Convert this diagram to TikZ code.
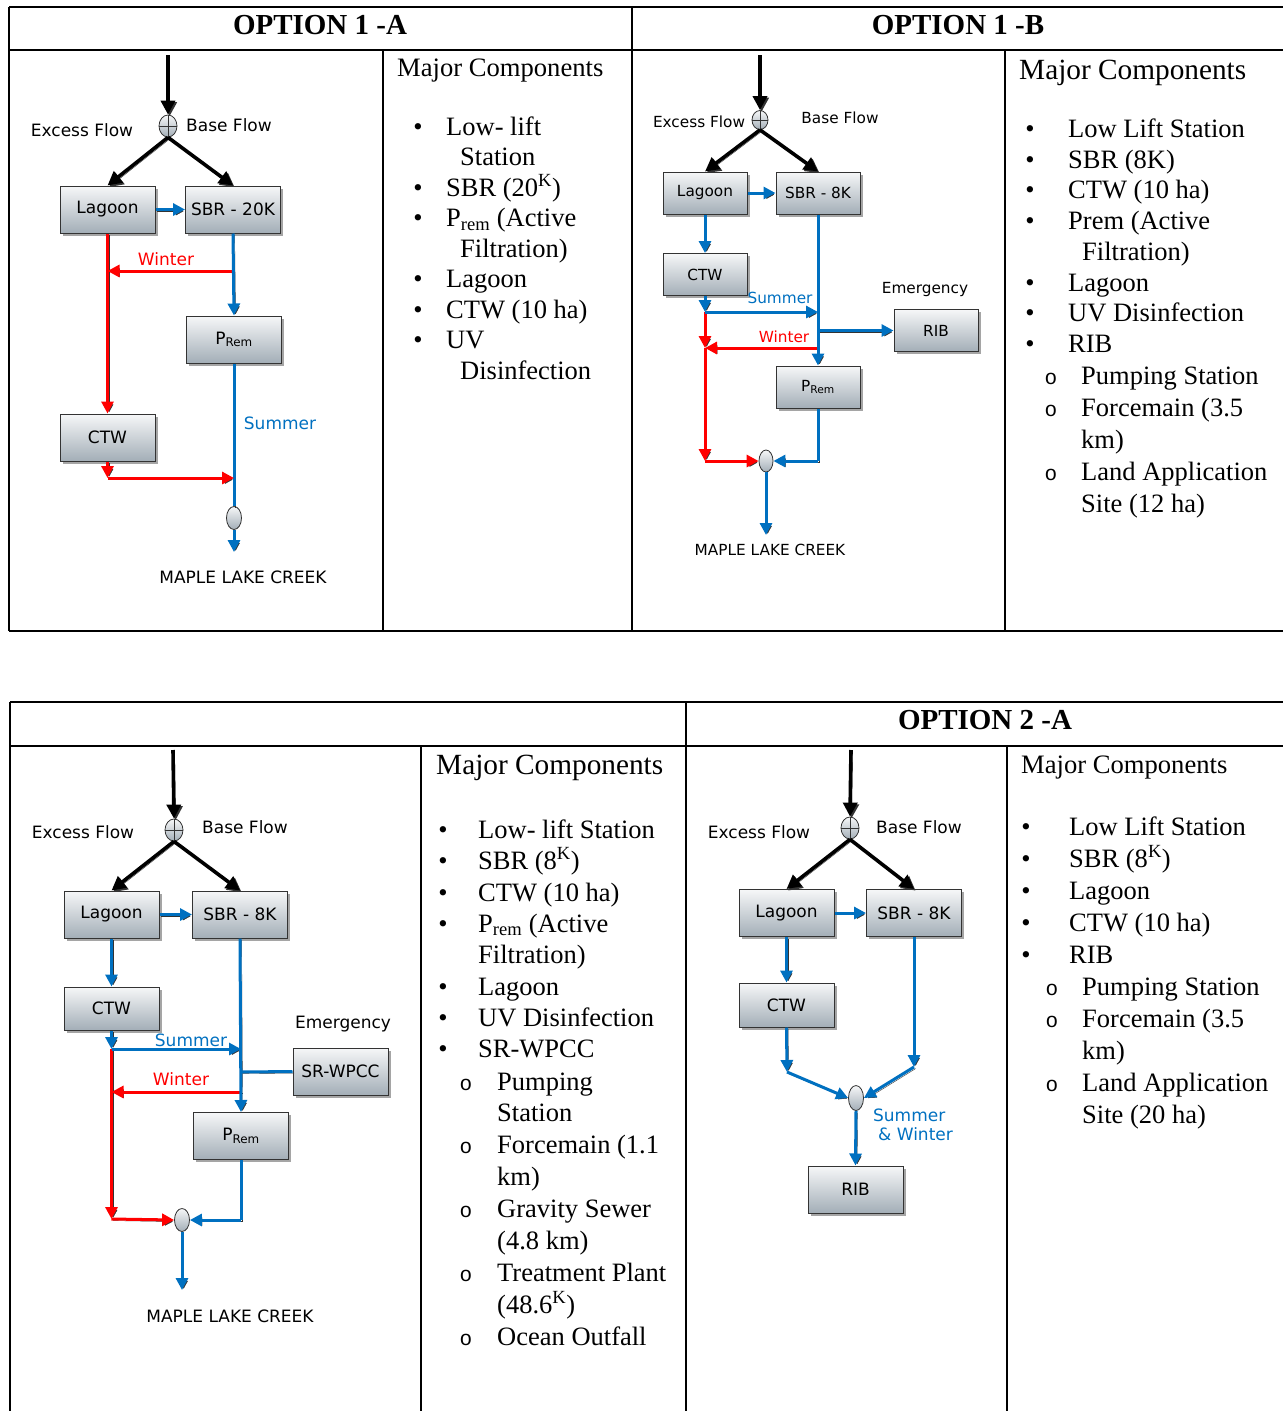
\documentclass[tikz,border=0pt]{standalone}
\usepackage{fontspec}
\setmainfont{Liberation Serif}
\setmonofont{Liberation Mono}
\newfontfamily\diagfont{DejaVu Sans}
\usetikzlibrary{arrows.meta,shapes.geometric,shadows,positioning}
\definecolor{flowblue}{RGB}{0,112,192}
\definecolor{flowred}{RGB}{255,0,0}
\definecolor{boxtop}{RGB}{246,247,248}
\definecolor{boxbottom}{RGB}{163,174,183}

\begin{document}
\begin{tikzpicture}[x=1pt,y=-1pt]
    % Define styles
    \tikzset{
        unit/.style={rectangle, draw=black!80, line width=1pt, top color=boxtop, bottom color=boxbottom, minimum width=95, minimum height=47, inner sep=0pt, drop shadow={shadow xshift=2.5pt, shadow yshift=-2.5pt, fill=black!70}, font=\diagfont\fontsize{17}{20}\selectfont},
        smallunit/.style={unit, minimum width=84, minimum height=42, font=\diagfont\fontsize{15.3}{18}\selectfont},
        junction/.style={ellipse, draw=black!80, line width=0.8pt, top color=boxtop, bottom color=boxbottom, minimum width=18, minimum height=22, inner sep=0pt, path picture={\draw[black!80, line width=0.8pt] (path picture bounding box.north) -- (path picture bounding box.south) (path picture bounding box.west) -- (path picture bounding box.east);}},
        merge/.style={ellipse, draw=black!80, line width=0.8pt, top color=boxtop, bottom color=boxbottom, minimum width=15, minimum height=23, inner sep=0pt},
        flow/.style={line width=3pt, -{Triangle[length=12pt,width=12pt]}, preaction={draw=black!80, transform canvas={xshift=1.6pt,yshift=-1.6pt}}},
        blueflow/.style={flow, draw=flowblue},
        redflow/.style={flow, draw=flowred},
        inflow/.style={flow, draw=black, line width=3.6pt, -{Triangle[length=14pt,width=14pt]}},
        lbl/.style={inner sep=0pt, font=\diagfont\fontsize{17}{20}\selectfont},
        smalllbl/.style={inner sep=0pt, font=\diagfont\fontsize{15.3}{18}\selectfont},
        head/.style={inner sep=0pt, font=\bfseries\fontsize{29}{32}\selectfont},
        comphead/.style={anchor=base west, inner sep=0pt, font=\fontsize{26.6}{30}\selectfont},
        bigcomphead/.style={comphead, font=\fontsize{29.3}{33}\selectfont},
        comp/.style={anchor=base west, inner sep=0pt, font=\fontsize{26.5}{30}\selectfont},
        bul/.style={anchor=base, inner sep=0pt, font=\fontsize{26.5}{30}\selectfont},
        subbul/.style={anchor=base, inner sep=0pt, font=\ttfamily\fontsize{21}{24}\selectfont},
        tableline/.style={line width=2pt}
    }
    \useasboundingbox (0,0) rectangle (1283,1411);

    % Tables
    \draw[tableline] (9,7) -- (1283,7);
    \draw[tableline] (9,50) -- (1283,50);
    \draw[tableline] (9,631) -- (1283,631);
    \draw[tableline] (9,7) -- (9,631);
    \draw[tableline] (632,7) -- (632,631);
    \draw[tableline] (383,50) -- (383,631);
    \draw[tableline] (1005,50) -- (1005,631);
    \draw[tableline] (10,702) -- (1283,702);
    \draw[tableline] (10,746) -- (1283,746);
    \draw[tableline] (10,702) -- (10,1411);
    \draw[tableline] (686,702) -- (686,1411);
    \draw[tableline] (421,746) -- (421,1411);
    \draw[tableline] (1007,746) -- (1007,1411);

    \node[head] (h1a) at (320,25) {OPTION 1 -A};
    \node[head] (h1b) at (958,25) {OPTION 1 -B};
    \node[head] (h2a) at (985,720) {OPTION 2 -A};

    % Option 1-A diagram
    \coordinate (a-in) at (168,55);
    \node[junction] (a-jn) at (168,126) {};
    \node[lbl] (a-exc) at (82,130) {Excess Flow};
    \node[lbl] (a-base) at (229,125) {Base Flow};
    \node[unit] (a-lag) at (107.5,209.5) {Lagoon};
    \node[unit] (a-sbr) at (233,209.5) {SBR - 20K};
    \node[unit] (a-prem) at (234,339.5) {P\textsubscript{Rem}};
    \node[unit] (a-ctw) at (107.5,437.5) {CTW};
    \node[merge] (a-mrg) at (234,518) {};
    \node[lbl] (a-out) at (243,577) {MAPLE LAKE CREEK};
    \node[lbl, text=flowred] (a-win) at (166,259) {Winter};
    \node[lbl, text=flowblue] (a-sum) at (280,423) {Summer};
    \coordinate (a-wtap) at (233.5,271);
    \coordinate (a-wjoin) at (107.5,271);
    \coordinate (a-c1) at (107.5,478);
    \coordinate (a-c2) at (234,478);
    \coordinate (a-end) at (234,552);

    \draw[inflow] (a-in) -- (a-jn.north);
    \draw[inflow] (a-jn.south) -- (a-lag.north);
    \draw[inflow] (a-jn.south) -- (a-sbr.north);
    \draw[blueflow] (a-lag.east) -- (a-sbr.west);
    \draw[redflow] (a-lag.south) -- (a-ctw.north);
    \draw[redflow] (a-wtap) -- (a-wjoin);
    \draw[blueflow] (a-sbr.south) -- (a-prem.north);
    \draw[blueflow, -] (a-prem.south) -- (a-mrg.north);
    \draw[redflow] (a-ctw.south) -- (a-c1);
    \draw[redflow] (a-c1) -- (a-c2);
    \draw[blueflow] (a-mrg.south) -- (a-end);

    % Option 1-A components
    \node[comphead] (a-mc) at (397,76) {Major Components};
    \foreach \x/\y/\txt [count=\i] in {446/135/{Low- lift}, 460/165.5/{Station}, 446/196/{SBR (20\textsuperscript{K})}, 446/226.5/{P\textsubscript{rem} (Active}, 460/257/{Filtration)}, 446/287.5/{Lagoon}, 446/318/{CTW (10 ha)}, 446/348.5/{UV}, 460/379/{Disinfection}}
        \node[comp] (a-t\i) at (\x,\y) {\txt};
    \foreach \y [count=\i] in {135,196,226.5,287.5,318,348.5}
        \node[bul] (a-b\i) at (418,\y) {\textbullet};

    % Option 1-B diagram
    \coordinate (b-in) at (760,55);
    \node[junction, minimum width=16, minimum height=19] (b-jn) at (760,120) {};
    \node[smalllbl] (b-exc) at (699,122) {Excess Flow};
    \node[smalllbl] (b-base) at (840,118) {Base Flow};
    \node[smallunit] (b-lag) at (705,193) {Lagoon};
    \node[smallunit] (b-sbr) at (818,193) {SBR - 8K};
    \node[smallunit] (b-ctw) at (705,274.5) {CTW};
    \node[smallunit] (b-rib) at (936,330.5) {RIB};
    \node[smallunit] (b-prem) at (818,387) {P\textsubscript{Rem}};
    \node[merge, minimum width=14, minimum height=22] (b-mrg) at (766,461) {};
    \node[smalllbl] (b-out) at (770,550) {MAPLE LAKE CREEK};
    \node[smalllbl] (b-emg) at (925,290) {Emergency};
    \node[smalllbl, text=flowblue] (b-sum) at (780,298) {Summer};
    \node[smalllbl, text=flowred] (b-win) at (784,337) {Winter};
    \coordinate (b-c1) at (705,312);
    \coordinate (b-c2) at (705,348);
    \coordinate (b-c3) at (705,461);
    \coordinate (b-stap) at (818,312);
    \coordinate (b-rtap) at (818,330.5);
    \coordinate (b-wtap) at (818,348);
    \coordinate (b-pjoin) at (818,461);
    \coordinate (b-end) at (766,535);

    \draw[inflow] (b-in) -- (b-jn.north);
    \draw[inflow] (b-jn.south) -- (b-lag.north);
    \draw[inflow] (b-jn.south) -- (b-sbr.north);
    \draw[blueflow] (b-lag.east) -- (b-sbr.west);
    \draw[blueflow] (b-lag.south) -- (b-ctw.north);
    \draw[redflow] (b-c1) -- (b-c2);
    \draw[redflow] (b-c2) -- (b-c3);
    \draw[redflow] (b-c3) -- (b-mrg.west);
    \draw[redflow] (b-wtap) -- (b-c2);
    \draw[blueflow] (b-ctw.south) -- (b-c1);
    \draw[blueflow] (b-c1) -- (b-stap);
    \draw[blueflow] (b-sbr.south) -- (b-prem.north);
    \draw[blueflow] (b-rtap) -- (b-rib.west);
    \draw[blueflow, -] (b-prem.south) -- (b-pjoin);
    \draw[blueflow] (b-pjoin) -- (b-mrg.east);
    \draw[blueflow] (b-mrg.south) -- (b-end);

    % Option 1-B components
    \node[bigcomphead] (b-mc) at (1019,79) {Major Components};
    \foreach \x/\y/\txt [count=\i] in {1068/137/{Low Lift Station}, 1068/168/{SBR (8K)}, 1068/198/{CTW (10 ha)}, 1068/229/{Prem (Active}, 1082/260/{Filtration)}, 1068/291/{Lagoon}, 1068/321/{UV Disinfection}, 1068/352/{RIB}, 1081/384/{Pumping Station}, 1081/416/{Forcemain (3.5}, 1081/448/{km)}, 1081/480/{Land Application}, 1081/512/{Site (12 ha)}}
        \node[comp] (b-t\i) at (\x,\y) {\txt};
    \foreach \y [count=\i] in {137,168,198,229,291,321,352}
        \node[bul] (b-b\i) at (1030,\y) {\textbullet};
    \foreach \y [count=\i] in {384,416,480}
        \node[subbul] (b-o\i) at (1051,\y) {o};

    % Option 2 (left) diagram
    \coordinate (c-in) at (173,750);
    \node[junction] (c-jn) at (174,830) {};
    \node[lbl] (c-exc) at (83,832) {Excess Flow};
    \node[lbl] (c-base) at (245,827) {Base Flow};
    \node[unit] (c-lag) at (111.5,914.5) {Lagoon};
    \node[unit] (c-sbr) at (240,914.5) {SBR - 8K};
    \node[unit, minimum height=43] (c-ctw) at (111.5,1008.5) {CTW};
    \node[unit] (c-wpcc) at (340.5,1071.5) {SR-WPCC};
    \node[unit] (c-prem) at (241,1136) {P\textsubscript{Rem}};
    \node[merge] (c-mrg) at (182,1220) {};
    \node[lbl] (c-out) at (230,1316) {MAPLE LAKE CREEK};
    \node[lbl] (c-emg) at (343,1024) {Emergency};
    \node[lbl, text=flowblue] (c-sum) at (191,1040) {Summer};
    \node[lbl, text=flowred] (c-win) at (181,1079) {Winter};
    \coordinate (c-c1) at (111.5,1049);
    \coordinate (c-stap) at (241,1049);
    \coordinate (c-etap) at (241,1072);
    \coordinate (c-wtap) at (241,1092);
    \coordinate (c-wjoin) at (111.5,1092);
    \coordinate (c-c3) at (111.5,1219);
    \coordinate (c-pjoin) at (241,1220);
    \coordinate (c-end) at (182,1290);

    \draw[inflow] (c-in) -- (c-jn.north);
    \draw[inflow] (c-jn.south) -- (c-lag.north);
    \draw[inflow] (c-jn.south) -- (c-sbr.north);
    \draw[blueflow] (c-lag.east) -- (c-sbr.west);
    \draw[blueflow] (c-lag.south) -- (c-ctw.north);
    \draw[redflow] (c-c1) -- (c-c3);
    \draw[redflow] (c-c3) -- (c-mrg.west);
    \draw[redflow] (c-wtap) -- (c-wjoin);
    \draw[blueflow] (c-ctw.south) -- (c-c1);
    \draw[blueflow] (c-c1) -- (c-stap);
    \draw[blueflow] (c-sbr.south) -- (c-prem.north);
    \draw[blueflow, -] (c-etap) -- (c-wpcc.west);
    \draw[blueflow, -] (c-prem.south) -- (c-pjoin);
    \draw[blueflow] (c-pjoin) -- (c-mrg.east);
    \draw[blueflow] (c-mrg.south) -- (c-end);

    % Option 2 (left) components
    \node[bigcomphead] (c-mc) at (436,774) {Major Components};
    \foreach \x/\y/\txt [count=\i] in {478/838/{Low- lift Station}, 478/869/{SBR (8\textsuperscript{K})}, 478/901/{CTW (10 ha)}, 478/932/{P\textsubscript{rem} (Active}, 478/963/{Filtration)}, 478/995/{Lagoon}, 478/1026/{UV Disinfection}, 478/1057/{SR-WPCC}, 497/1090/{Pumping}, 497/1121/{Station}, 497/1153/{Forcemain (1.1}, 497/1185/{km)}, 497/1217/{Gravity Sewer}, 497/1249/{(4.8 km)}, 497/1281/{Treatment Plant}, 497/1313/{(48.6\textsuperscript{K})}, 497/1345/{Ocean Outfall}}
        \node[comp] (c-t\i) at (\x,\y) {\txt};
    \foreach \y [count=\i] in {838,869,901,932,995,1026,1057}
        \node[bul] (c-b\i) at (443,\y) {\textbullet};
    \foreach \y [count=\i] in {1090,1153,1217,1281,1345}
        \node[subbul] (c-o\i) at (466,\y) {o};

    % Option 2-A diagram
    \coordinate (d-in) at (851,750);
    \node[junction] (d-jn) at (850,828) {};
    \node[lbl] (d-exc) at (759,832) {Excess Flow};
    \node[lbl] (d-base) at (919,827) {Base Flow};
    \node[unit] (d-lag) at (786.5,913) {Lagoon};
    \node[unit] (d-sbr) at (914,913) {SBR - 8K};
    \node[unit, minimum height=44] (d-ctw) at (786.5,1005) {CTW};
    \node[merge, minimum height=25] (d-mrg) at (856,1098) {};
    \node[unit] (d-rib) at (855.5,1189.5) {RIB};
    \node[lbl, text=flowblue, align=left] (d-sw) at (913,1125) {Summer\\[-1pt]\hspace*{5pt}\& Winter};
    \coordinate (d-c1) at (787,1072);
    \coordinate (d-c2) at (914,1067);

    \draw[inflow] (d-in) -- (d-jn.north);
    \draw[inflow] (d-jn.south) -- (d-lag.north);
    \draw[inflow] (d-jn.south) -- (d-sbr.north);
    \draw[blueflow] (d-lag.east) -- (d-sbr.west);
    \draw[blueflow] (d-lag.south) -- (d-ctw.north);
    \draw[blueflow] (d-ctw.south) -- (d-c1);
    \draw[blueflow] (d-c1) -- (d-mrg.west);
    \draw[blueflow] (d-sbr.south) -- (d-c2);
    \draw[blueflow] (d-c2) -- (d-mrg.east);
    \draw[blueflow] (d-mrg.south) -- (d-rib.north);

    % Option 2-A components
    \node[comphead] (d-mc) at (1021,773) {Major Components};
    \foreach \x/\y/\txt [count=\i] in {1069/835/{Low Lift Station}, 1069/867/{SBR (8\textsuperscript{K})}, 1069/899/{Lagoon}, 1069/931/{CTW (10 ha)}, 1069/963/{RIB}, 1082/995/{Pumping Station}, 1082/1027/{Forcemain (3.5}, 1082/1059/{km)}, 1082/1091/{Land Application}, 1082/1123/{Site (20 ha)}}
        \node[comp] (d-t\i) at (\x,\y) {\txt};
    \foreach \y [count=\i] in {835,867,899,931,963}
        \node[bul] (d-b\i) at (1026,\y) {\textbullet};
    \foreach \y [count=\i] in {995,1027,1091}
        \node[subbul] (d-o\i) at (1052,\y) {o};
\end{tikzpicture}
\end{document}
